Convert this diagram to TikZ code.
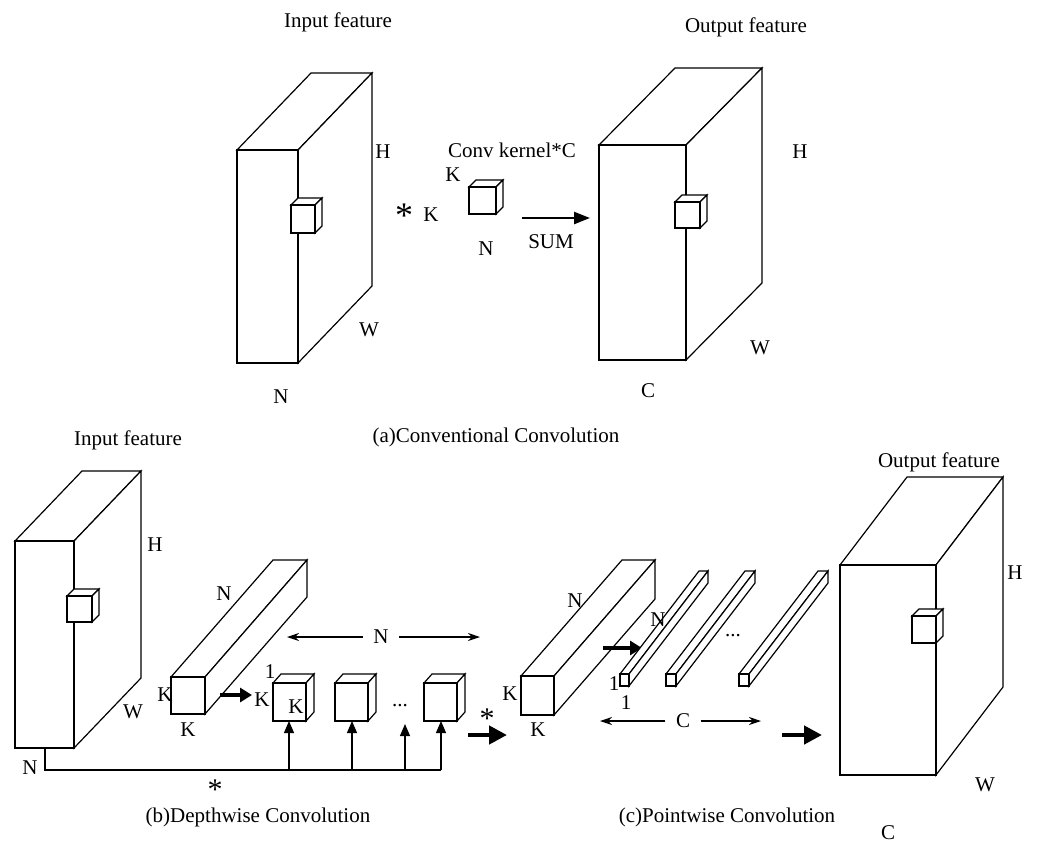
\documentclass[tikz,border=0pt]{standalone}
\usepackage{fontspec}
\setmainfont{Liberation Serif}
\usetikzlibrary{arrows.meta}
\newcommand\mybox[6]{% x1 y1 x2 y2 dx dy
 \filldraw[fill=white] (#1,#2) -- ++(#5,#6) -- ++(#3-#1,0) -- (#3,#2) -- cycle;
 \filldraw[fill=white] (#3,#2) -- ++(#5,#6) -- ++(0,#4-#2) -- (#3,#4) -- cycle;
 \filldraw[fill=white] (#1,#2) rectangle (#3,#4);}
\begin{document}
\begin{tikzpicture}[x=0.5pt,y=-0.5pt,line width=0.6pt,
 lbl/.style={font=\fontsize{10.5}{12}\selectfont,inner sep=0pt},
 thick arr/.style={line width=2.2pt,-{Triangle[length=9pt,width=9pt]}},
 thin arr/.style={-{Triangle[length=6pt,width=5pt]}},
 dim arr/.style={-{Stealth[length=6pt,width=4pt]}}]
\useasboundingbox (0,0) rectangle (1037,846);
% (a)
\mybox{237}{150}{298}{363}{74}{-77}
\mybox{291}{205}{315}{233}{7}{-7}
\node[lbl] (ai) at (338,22) {Input feature};
\node[lbl] (aH) at (383,152) {H};
\node[lbl] (aW) at (369,330) {W};
\node[lbl] (aN) at (281,397) {N};
\node[lbl,font=\fontsize{18}{18}\selectfont] (ast) at (404,216) {*};
\node[lbl] (aK1) at (431,215) {K};
\node[lbl] (aK2) at (453,175) {K};
\mybox{469}{187}{496}{214}{7}{-7}
\node[lbl] (ack) at (512,150) {Conv kernel*C};
\node[lbl] (aN2) at (486,249) {N};
\coordinate (a1) at (522,218); \coordinate (a2) at (590,218);
\draw[line width=1.2pt,-{Triangle[length=8pt,width=6pt]}] (a1) -- (a2);
\node[lbl] (sum) at (551,242) {SUM};
\mybox{599}{145}{686}{360}{76}{-77}
\mybox{675}{202}{700}{228}{7}{-7}
\node[lbl] (ao) at (746,27) {Output feature};
\node[lbl] (aoH) at (800,152) {H};
\node[lbl] (aoW) at (760,348) {W};
\node[lbl] (aoC) at (648,391) {C};
\node[lbl] (capa) at (496,437) {(a)Conventional Convolution};
% (b)
\mybox{15}{541}{74}{748}{67}{-70}
\mybox{67}{596}{92}{622}{7}{-7}
\node[lbl] (bi) at (128,440) {Input feature};
\node[lbl] (bH) at (155,545) {H};
\node[lbl] (bW) at (133,712) {W};
\node[lbl] (bN) at (30,768) {N};
\mybox{171}{677}{205}{714}{102}{-117}
\node[lbl] (bN1) at (224,594) {N};
\node[lbl] (bK1) at (165,695) {K};
\node[lbl] (bK2) at (188,730) {K};
\coordinate (b1) at (220,695); \coordinate (b2) at (252,695);
\draw[line width=1.8pt,-{Triangle[length=6pt,width=7pt]}] (b1) -- (b2);
\mybox{273}{683}{306}{721}{8}{-9}
\mybox{335}{683}{368}{721}{8}{-9}
\mybox{424}{683}{457}{721}{8}{-9}
\node[lbl] (b1l) at (270,672) {1};
\node[lbl] (bK3) at (262,700) {K};
\node[lbl] (bK4) at (296,707) {K};
\node[lbl] (bdots) at (400,706) {...};
\coordinate (nl) at (287,637); \coordinate (nr) at (480,637);
\node[lbl,inner xsep=5pt] (bNN) at (381,637) {N};
\draw[dim arr] (bNN.west) -- (nl);
\draw[dim arr] (bNN.east) -- (nr);
\coordinate (l0) at (45,748); \coordinate (l1) at (45,770); \coordinate (l2) at (441,770);
\draw (l0) -- (l1) -- (l2);
\foreach \x/\t in {289/721,352/721,405/724,441/721}
  \draw[thin arr] (\x,770) -- (\x,\t);
\node[lbl,font=\fontsize{15}{15}\selectfont] (bst) at (215,790) {*};
\node[lbl] (capb) at (258,817) {(b)Depthwise Convolution};
\node[lbl,font=\fontsize{15}{15}\selectfont] (bst2) at (487,719) {*};
\coordinate (t1) at (468,735); \coordinate (t2) at (507,735);
\draw[thick arr] (t1) -- (t2);
% (c)
\mybox{521}{676}{554}{715}{101}{-116}
\node[lbl] (cN) at (575,601) {N};
\node[lbl] (cK1) at (510,694) {K};
\node[lbl] (cK2) at (538,730) {K};
\coordinate (c1) at (603,648); \coordinate (c2) at (642,648);
\draw[line width=1.8pt,-{Triangle[length=6pt,width=7pt]}] (c1) -- (c2);
\mybox{620}{674}{629}{686}{79}{-103}
\mybox{666}{674}{676}{686}{79}{-103}
\mybox{739}{674}{749}{686}{79}{-103}
\node[lbl] (cN2) at (658,620) {N};
\node[lbl] (cdots) at (733,636) {...};
\node[lbl] (c1a) at (614,684) {1};
\node[lbl] (c1b) at (626,703) {1};
\coordinate (cl) at (600,721); \coordinate (cr) at (761,721);
\node[lbl,inner xsep=5pt] (cC) at (683,721) {C};
\draw[dim arr] (cC.west) -- (cl);
\draw[dim arr] (cC.east) -- (cr);
\coordinate (d1) at (782,735); \coordinate (d2) at (822,735);
\draw[thick arr] (d1) -- (d2);
\mybox{840}{565}{936}{775}{67}{-88}
\mybox{912}{616}{936}{643}{7}{-7}
\node[lbl] (co) at (939,462) {Output feature};
\node[lbl] (coH) at (1015,573) {H};
\node[lbl] (coW) at (985,785) {W};
\node[lbl] (coC) at (888,833) {C};
\node[lbl] (capc) at (727,817) {(c)Pointwise Convolution};
\end{tikzpicture}
\end{document}
